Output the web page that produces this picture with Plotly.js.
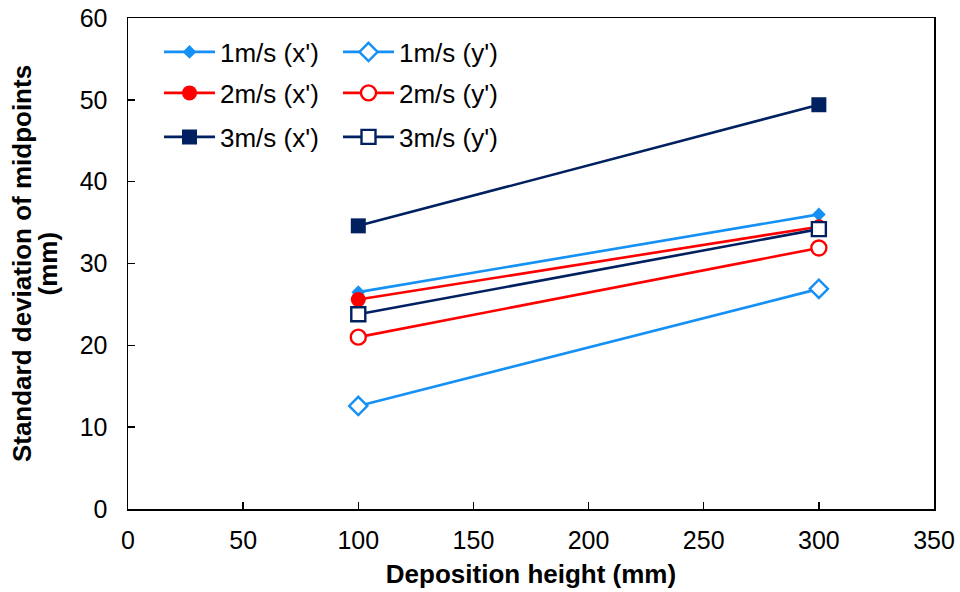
<!DOCTYPE html>
<html>
<head>
<meta charset="utf-8">
<script src="https://cdn.plot.ly/plotly-3.0.1.min.js"></script>
<style>html,body{margin:0;padding:0;background:#fff;}#chart{width:960px;height:592px;}</style>
</head>
<body>
<div id="chart"></div>
<script>
const heights = [100, 300];
const seriesNames = ["1m/s (x')", "1m/s (y')", "2m/s (x')", "2m/s (y')", "3m/s (x')", "3m/s (y')"];
const v1x = [26.5, 36.0];
const v1y = [12.6, 26.9];
const v2x = [25.6, 34.5];
const v2y = [21.0, 31.9];
const v3x = [34.6, 49.4];
const v3y = [23.8, 34.2];
const xTicks = [0, 50, 100, 150, 200, 250, 300, 350];
const yTicks = [0, 10, 20, 30, 40, 50, 60];
const xTitle = 'Deposition height (mm)';
const yTitleLines = ['Standard deviation of midpoints', '(mm)'];

const blue = '#1590F5', red = '#FF0000', navy = '#002060';
const font = 'Arial, "Liberation Sans", sans-serif';

function tr(name, y, color, symbol, filled, size, legend) {
  return {
    x: heights, y: y, name: name, type: 'scatter', mode: 'lines+markers',
    legend: legend,
    line: {color: color, width: 2.6},
    marker: {symbol: symbol, size: size, color: filled ? color : '#ffffff',
             line: {color: color, width: filled ? 0 : 2.4}}
  };
}
const data = [
  tr(seriesNames[0], v1x, blue, 'diamond', true, 10.5, 'legend'),
  tr(seriesNames[1], v1y, blue, 'diamond', false, 14, 'legend'),
  tr(seriesNames[2], v2x, red, 'circle', true, 15, 'legend2'),
  tr(seriesNames[3], v2y, red, 'circle', false, 15, 'legend2'),
  tr(seriesNames[4], v3x, navy, 'square', true, 15, 'legend3'),
  tr(seriesNames[5], v3y, navy, 'square', false, 14, 'legend3')
];
function leg(ypx) {
  return {
    orientation: 'h', xref: 'paper', yref: 'paper',
    x: (159 - 128) / 806, y: (509 - ypx) / 491, xanchor: 'left', yanchor: 'middle',
    entrywidth: 113, entrywidthmode: 'pixels', itemwidth: 51,
    bgcolor: 'rgba(0,0,0,0)', font: {family: font, size: 26, color: '#000'},
    traceorder: 'normal'
  };
}
const layout = {
  width: 960, height: 592,
  margin: {l: 128, r: 26, t: 18, b: 83},
  paper_bgcolor: '#fff', plot_bgcolor: '#fff',
  font: {family: font, size: 25, color: '#000'},
  showlegend: true,
  legend: leg(52), legend2: leg(93), legend3: leg(137),
  xaxis: {
    range: [0, 350], tickvals: xTicks, ticktext: xTicks.map(String),
    showgrid: false, zeroline: false, showline: true, linecolor: '#000', linewidth: 1.5,
    mirror: true, ticks: 'inside', ticklen: 7, tickcolor: '#000', tickwidth: 1.5,
    ticklabelstandoff: 8,
    tickfont: {family: font, size: 25, color: '#000'},
    title: {text: '<b>' + xTitle + '</b>', font: {family: font, size: 26, color: '#000'}, standoff: 12}
  },
  yaxis: {
    range: [0, 60], tickvals: yTicks, ticktext: yTicks.map(String),
    showgrid: false, zeroline: false, showline: true, linecolor: '#000', linewidth: 1.5,
    mirror: true, ticks: 'inside', ticklen: 7, tickcolor: '#000', tickwidth: 1.5,
    ticklabelstandoff: 14,
    tickfont: {family: font, size: 25, color: '#000'},
    title: {text: '<b>' + yTitleLines[0] + '</b>', font: {family: font, size: 26, color: '#000'}, standoff: 40}
  },
  annotations: [{
    text: '<b>' + yTitleLines[1] + '</b>', xref: 'paper', yref: 'paper',
    x: (47 - 128) / 806, y: 0.5, xanchor: 'center', yanchor: 'middle',
    textangle: -90, showarrow: false, font: {family: font, size: 26, color: '#000'}
  }]
};
Plotly.newPlot('chart', data, layout, {displayModeBar: false, staticPlot: true});
</script>
</body>
</html>
